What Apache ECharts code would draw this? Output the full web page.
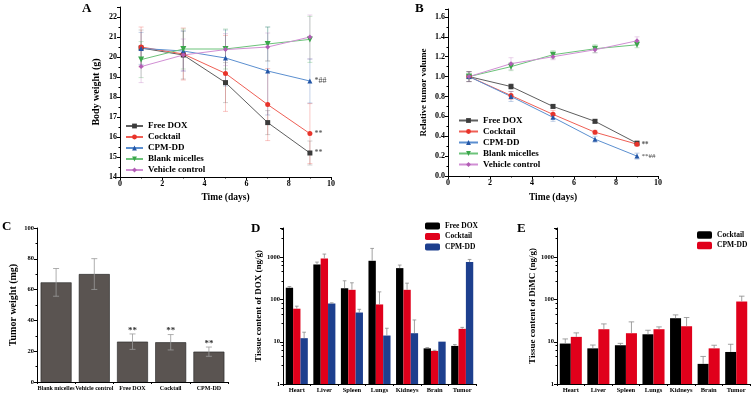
<!DOCTYPE html>
<html><head><meta charset="utf-8">
<script src="https://cdn.jsdelivr.net/npm/echarts@6/dist/echarts.min.js"></script>
<style>html,body{margin:0;padding:0;background:#fff}#c{width:755px;height:402px}</style>
</head><body><div id="c"></div>
<script>
// ---------- DATA ----------
const days = [1, 3, 5, 7, 9];
const groupNames = ['Free DOX', 'Cocktail', 'CPM-DD', 'Blank micelles', 'Vehicle control'];

// Panel A: body weight (g)
const weightFreeDOX = [20.45, 20.1, 18.72, 16.72, 15.2];
const weightCocktail = [20.5, 20.15, 19.18, 17.62, 16.17];
const weightCPMDD = [20.43, 20.3, 19.95, 19.3, 18.8];
const weightBlank = [19.87, 20.4, 20.4, 20.65, 20.88];
const weightVehicle = [19.52, 20.1, 20.37, 20.5, 21.0];
const weightErrFreeDOX = [0.9, 1.2, 1.0, 0.6, 0.6];
const weightErrCocktail = [1.0, 1.3, 1.9, 1.8, 1.5];
const weightErrCPMDD = [0.8, 1.0, 1.4, 2.2, 1.1];
const weightErrBlank = [0.9, 1.0, 1.0, 0.85, 1.15];
const weightErrVehicle = [0.8, 0.8, 0.8, 0.7, 1.1];
const weightNotes = ['**', '**', '*##', '', ''];

// Panel B: relative tumor volume
const volFreeDOX = [1.0, 0.9, 0.7, 0.55, 0.33];
const volCocktail = [1.0, 0.81, 0.62, 0.44, 0.32];
const volCPMDD = [1.0, 0.80, 0.59, 0.37, 0.20];
const volBlank = [1.0, 1.10, 1.22, 1.28, 1.32];
const volVehicle = [1.0, 1.13, 1.20, 1.27, 1.36];
const volErrFreeDOX = [0.05, 0.03, 0.02, 0.02, 0.02];
const volErrCocktail = [0.05, 0.04, 0.04, 0.02, 0.02];
const volErrCPMDD = [0.05, 0.05, 0.04, 0.03, 0.03];
const volErrBlank = [0.05, 0.04, 0.04, 0.04, 0.03];
const volErrVehicle = [0.05, 0.06, 0.03, 0.03, 0.04];
const volNotes = ['**', '**', '**##', '', ''];

// Panel C: tumor weight (mg)
const tumorGroups = ['Blank micelles', 'Vehicle control', 'Free DOX', 'Cocktail', 'CPM-DD'];
const tumorWeight = [64.7, 70.1, 26.2, 25.8, 19.7];
const tumorWeightErr = [9, 10, 5, 5, 3];
const tumorNotes = ['', '', '**', '**', '**'];

// Panel D: tissue content of DOX (ng/g)
const tissues = ['Heart', 'Liver', 'Spleen', 'Lungs', 'Kidneys', 'Brain', 'Tumor'];
const doxFreeDOX = [191, 683, 187, 835, 559, 7.0, 8.0];
const doxCocktail = [61, 948, 171, 77, 171, 6.1, 20.3];
const doxCPMDD = [12.2, 81, 49.5, 14.1, 16, 10.1, 777];
const doxErrFreeDOX = [14, 94, 93, 805, 102, 0.3, 0.6];
const doxErrCocktail = [9, 256, 80, 76, 75, 0.2, 1.7];
const doxErrCPMDD = [4.7, 3, 9.5, 6.9, 17, 0, 121];

// Panel E: tissue content of DiMC (ng/g)
const dimcCocktail = [9.1, 7.0, 8.3, 15.1, 36.3, 3.0, 5.75];
const dimcCPMDD = [13.1, 19.9, 16, 19.9, 23.4, 7.0, 90.3];
const dimcErrCocktail = [2.6, 1.4, 0.9, 3.7, 7.2, 1.5, 3.0];
const dimcErrCPMDD = [3.2, 6.7, 13.7, 2.7, 14.3, 1.3, 30.7];

// Ticks
const weightMin = 14, weightMax = 22.5, weightStep = 1;
const volMin = 0, volMax = 1.68, volStep = 0.2;
const dayMin = 0, dayMax = 10, dayStep = 2;
const tumorMin = 0, tumorMax = 100, tumorStep = 20;
const logMin = 1, logMax = 5000;
const logTickLabels = ['1', '10', '100', '1000'];

// ---------- STYLE ----------
const FONT = '"Liberation Serif", "DejaVu Serif", serif';
const markerColors = ['#3b3b3b', '#e8332a', '#2356a6', '#3aa64a', '#b25db5'];
const lineColors = ['#5e5e5e', '#ef5f55', '#5b8fd0', '#6cc37a', '#d18fd4'];
const errColorsA = ['rgba(90,90,90,0.35)', 'rgba(232,51,42,0.35)', 'rgba(35,86,166,0.35)', 'rgba(58,166,74,0.35)', 'rgba(178,93,181,0.35)'];
const symbols = ['rect', 'circle', 'triangle', 'path://M0,0 L10,0 L5,9 Z', 'diamond'];

function axisBase(fs, nameFs) {
  return {
    axisLine: { show: true, onZero: false, lineStyle: { color: '#000', width: 1 } },
    axisTick: { show: true, inside: false, length: 3, lineStyle: { color: '#000' } },
    minorTick: { show: true, splitNumber: 2, length: 1.5, lineStyle: { color: '#000' } },
    splitLine: { show: false },
    axisLabel: { fontFamily: FONT, fontWeight: 'bold', fontSize: fs, color: '#000', margin: 3 },
    nameTextStyle: { fontFamily: FONT, fontWeight: 'bold', fontSize: nameFs, color: '#000' }
  };
}

function lineErr(idx, xs, ys, es, color) {
  return {
    type: 'custom', xAxisIndex: idx, yAxisIndex: idx, silent: true, z: 1,
    data: xs.map((x, i) => [x, ys[i], es[i]]),
    renderItem: (p, api) => {
      const x = api.value(0), y = api.value(1), e = api.value(2);
      const lo = api.coord([x, y - e]), hi = api.coord([x, y + e]);
      const w = 2.5, st = { stroke: color, lineWidth: 0.8 };
      return { type: 'group', children: [
        { type: 'line', shape: { x1: lo[0], y1: lo[1], x2: hi[0], y2: hi[1] }, style: st },
        { type: 'line', shape: { x1: lo[0] - w, y1: lo[1], x2: lo[0] + w, y2: lo[1] }, style: st },
        { type: 'line', shape: { x1: hi[0] - w, y1: hi[1], x2: hi[0] + w, y2: hi[1] }, style: st }
      ]};
    }
  };
}

function lineSeries(idx, panel, k, ys, notes, noteFs) {
  return {
    type: 'line', name: panel + '|' + groupNames[k], xAxisIndex: idx, yAxisIndex: idx, z: 3,
    symbol: symbols[k], symbolSize: k === 3 ? 6 : 5, showSymbol: true,
    lineStyle: { color: lineColors[k], width: 1 },
    itemStyle: { color: markerColors[k] },
    data: days.map((d, i) => {
      const item = { value: [d, ys[i]] };
      if (i === days.length - 1 && notes[k]) {
        item.label = { show: true, position: 'right', distance: 2, formatter: notes[k],
          fontFamily: FONT, fontSize: noteFs, color: '#444' };
      }
      return item;
    })
  };
}

function barErr(idx, vals, errs, k, n, color, both, notes) {
  return {
    type: 'custom', xAxisIndex: idx, yAxisIndex: idx, silent: true, z: 5,
    data: vals.map((v, i) => [i, v, errs[i]]),
    renderItem: (p, api) => {
      const ci = api.value(0), v = api.value(1), e = api.value(2);
      const band = api.size([1, 0], [ci, v])[0];
      const bw = band * 0.8 / n;
      const off = (k - (n - 1) / 2) * bw;
      const hi = api.coord([ci, v + e]);
      const lo = api.coord([ci, both ? v - e : v]);
      const x = hi[0] + off, w = Math.min(3, bw * 0.25);
      const st = { stroke: color, lineWidth: 0.8 };
      const ch = [];
      if (e > 0) {
        ch.push({ type: 'line', shape: { x1: x, y1: lo[1], x2: x, y2: hi[1] }, style: st });
        ch.push({ type: 'line', shape: { x1: x - w, y1: hi[1], x2: x + w, y2: hi[1] }, style: st });
        if (both) ch.push({ type: 'line', shape: { x1: x - w, y1: lo[1], x2: x + w, y2: lo[1] }, style: st });
      }
      if (notes && notes[p.dataIndex]) {
        ch.push({ type: 'text', x: x, y: hi[1] + 1, style: { text: notes[p.dataIndex], fill: '#333',
          font: 'bold 9px ' + FONT, align: 'center', verticalAlign: 'bottom' } });
      }
      return { type: 'group', children: ch };
    }
  };
}

function barSeries(idx, panel, name, vals, color) {
  return {
    type: 'bar', name: panel + '|' + name, xAxisIndex: idx, yAxisIndex: idx, z: 2,
    barGap: '0%', barCategoryGap: '20%',
    itemStyle: { color: color },
    data: vals
  };
}

function logAxis(idx, name) {
  const a = axisBase(6.5, 9);
  a.axisLabel.showMaxLabel = false;
  a.axisLabel.showMinLabel = true;
  a.axisLabel.formatter = v => { const s = String(Math.round(v)); return logTickLabels.indexOf(s) >= 0 ? s : ''; };
  return Object.assign(a, { gridIndex: idx, type: 'log', logBase: 10, min: logMin, max: logMax,
    name: name, nameLocation: 'middle', nameGap: 19,
    minorTick: { show: true, splitNumber: 5, length: 1.5, lineStyle: { color: '#000' } } });
}

function catAxis(idx, cats, fs) {
  const a = axisBase(fs, 9);
  a.axisLabel.interval = 0;
  return Object.assign(a, { gridIndex: idx, type: 'category', data: cats,
    axisTick: { show: true, length: 2, lineStyle: { color: '#000' } }, minorTick: { show: false } });
}

const namesA = groupNames.map(g => 'A|' + g);
const namesB = groupNames.map(g => 'B|' + g);
const legendText = { fontFamily: FONT, fontWeight: 'bold', color: '#000' };
const fmt = n => n.split('|')[1];

const option = {
  animation: false,
  backgroundColor: '#fff',
  title: [
    { text: 'A', left: 82, top: 2 }, { text: 'B', left: 415, top: 2 },
    { text: 'C', left: 2, top: 220 }, { text: 'D', left: 251, top: 222 }, { text: 'E', left: 517, top: 222 }
  ].map(t => Object.assign(t, { padding: 0, textStyle: { fontFamily: FONT, fontWeight: 'bold', fontSize: 13, color: '#000' } })),
  grid: [
    { left: 120, top: 7, width: 211, height: 170 },
    { left: 448, top: 9, width: 210, height: 167 },
    { left: 37, top: 228, width: 191, height: 154 },
    { left: 283, top: 228, width: 193, height: 156 },
    { left: 557, top: 228, width: 193, height: 156 }
  ],
  xAxis: [
    Object.assign(axisBase(8, 9.5), { gridIndex: 0, type: 'value', min: dayMin, max: dayMax, interval: dayStep,
      name: 'Time (days)', nameLocation: 'middle', nameGap: 16 }),
    Object.assign(axisBase(8, 9.5), { gridIndex: 1, type: 'value', min: dayMin, max: dayMax, interval: dayStep,
      name: 'Time (days)', nameLocation: 'middle', nameGap: 17 }),
    catAxis(2, tumorGroups, 6),
    catAxis(3, tissues, 6.5),
    catAxis(4, tissues, 6.5)
  ],
  yAxis: [
    Object.assign(axisBase(8, 10), { gridIndex: 0, type: 'value', min: weightMin, max: weightMax, interval: weightStep,
      name: 'Body weight (g)', nameLocation: 'middle', nameGap: 19 }),
    Object.assign(axisBase(8, 9), { gridIndex: 1, type: 'value', min: volMin, max: volMax, interval: volStep,
      name: 'Relative tumor volume', nameLocation: 'middle', nameGap: 20 }),
    Object.assign(axisBase(6.5, 10), { gridIndex: 2, type: 'value', min: tumorMin, max: tumorMax, interval: tumorStep,
      name: 'Tumor weight (mg)', nameLocation: 'middle', nameGap: 19 }),
    logAxis(3, 'Tissue content of DOX (ng/g)'),
    logAxis(4, 'Tissue content of DiMC (ng/g)')
  ],
  legend: [
    { data: namesA, formatter: fmt, orient: 'vertical', left: 125, top: 121.5, padding: 0, itemGap: 2,
      itemWidth: 17, itemHeight: 6, textStyle: Object.assign({ fontSize: 9 }, legendText) },
    { data: namesB, formatter: fmt, orient: 'vertical', left: 458, top: 116, padding: 0, itemGap: 2,
      itemWidth: 19, itemHeight: 6, textStyle: Object.assign({ fontSize: 9 }, legendText) },
    { data: ['D|Free DOX', 'D|Cocktail', 'D|CPM-DD'], formatter: fmt, orient: 'vertical', left: 425, top: 222, padding: 0,
      itemGap: 2.5, itemWidth: 15, itemHeight: 7, textStyle: Object.assign({ fontSize: 7.5 }, legendText) },
    { data: ['E|Cocktail', 'E|CPM-DD'], formatter: fmt, orient: 'vertical', left: 697, top: 231, padding: 0,
      itemGap: 2.5, itemWidth: 15, itemHeight: 7.5, textStyle: Object.assign({ fontSize: 7.5 }, legendText) }
  ],
  series: [
    lineErr(0, days, weightFreeDOX, weightErrFreeDOX, errColorsA[0]),
    lineErr(0, days, weightCocktail, weightErrCocktail, errColorsA[1]),
    lineErr(0, days, weightCPMDD, weightErrCPMDD, errColorsA[2]),
    lineErr(0, days, weightBlank, weightErrBlank, errColorsA[3]),
    lineErr(0, days, weightVehicle, weightErrVehicle, errColorsA[4]),
    lineSeries(0, 'A', 0, weightFreeDOX, weightNotes, 8),
    lineSeries(0, 'A', 1, weightCocktail, weightNotes, 8),
    lineSeries(0, 'A', 2, weightCPMDD, weightNotes, 8),
    lineSeries(0, 'A', 3, weightBlank, weightNotes, 8),
    lineSeries(0, 'A', 4, weightVehicle, weightNotes, 8),

    lineErr(1, days, volFreeDOX, volErrFreeDOX, errColorsA[0]),
    lineErr(1, days, volCocktail, volErrCocktail, errColorsA[1]),
    lineErr(1, days, volCPMDD, volErrCPMDD, errColorsA[2]),
    lineErr(1, days, volBlank, volErrBlank, errColorsA[3]),
    lineErr(1, days, volVehicle, volErrVehicle, errColorsA[4]),
    lineSeries(1, 'B', 0, volFreeDOX, volNotes, 7),
    lineSeries(1, 'B', 1, volCocktail, volNotes, 7),
    lineSeries(1, 'B', 2, volCPMDD, volNotes, 7),
    lineSeries(1, 'B', 3, volBlank, volNotes, 7),
    lineSeries(1, 'B', 4, volVehicle, volNotes, 7),

    { type: 'bar', name: 'C|Tumor weight', xAxisIndex: 2, yAxisIndex: 2, barCategoryGap: '19%',
      itemStyle: { color: '#5a5451', borderColor: '#222', borderWidth: 0.6 }, data: tumorWeight },
    barErr(2, tumorWeight, tumorWeightErr, 0, 1, '#9a9a9a', true, tumorNotes),

    barSeries(3, 'D', 'Free DOX', doxFreeDOX, '#000000'),
    barSeries(3, 'D', 'Cocktail', doxCocktail, '#e0001b'),
    barSeries(3, 'D', 'CPM-DD', doxCPMDD, '#1d3f8e'),
    barErr(3, doxFreeDOX, doxErrFreeDOX, 0, 3, '#8a8a8a', false),
    barErr(3, doxCocktail, doxErrCocktail, 1, 3, '#8a8a8a', false),
    barErr(3, doxCPMDD, doxErrCPMDD, 2, 3, '#8a8a8a', false),

    barSeries(4, 'E', 'Cocktail', dimcCocktail, '#000000'),
    barSeries(4, 'E', 'CPM-DD', dimcCPMDD, '#e0001b'),
    barErr(4, dimcCocktail, dimcErrCocktail, 0, 2, '#8a8a8a', false),
    barErr(4, dimcCPMDD, dimcErrCPMDD, 1, 2, '#8a8a8a', false)
  ]
};

option.yAxis[0].axisLabel.showMaxLabel = false;
option.yAxis[1].axisLabel.showMaxLabel = false;
option.yAxis[1].axisLabel.formatter = v => v.toFixed(1);
option.yAxis[2].axisLabel.showMinLabel = true;

const chart = echarts.init(document.getElementById('c'), null, { renderer: 'canvas' });
chart.setOption(option);
</script>
</body></html>
